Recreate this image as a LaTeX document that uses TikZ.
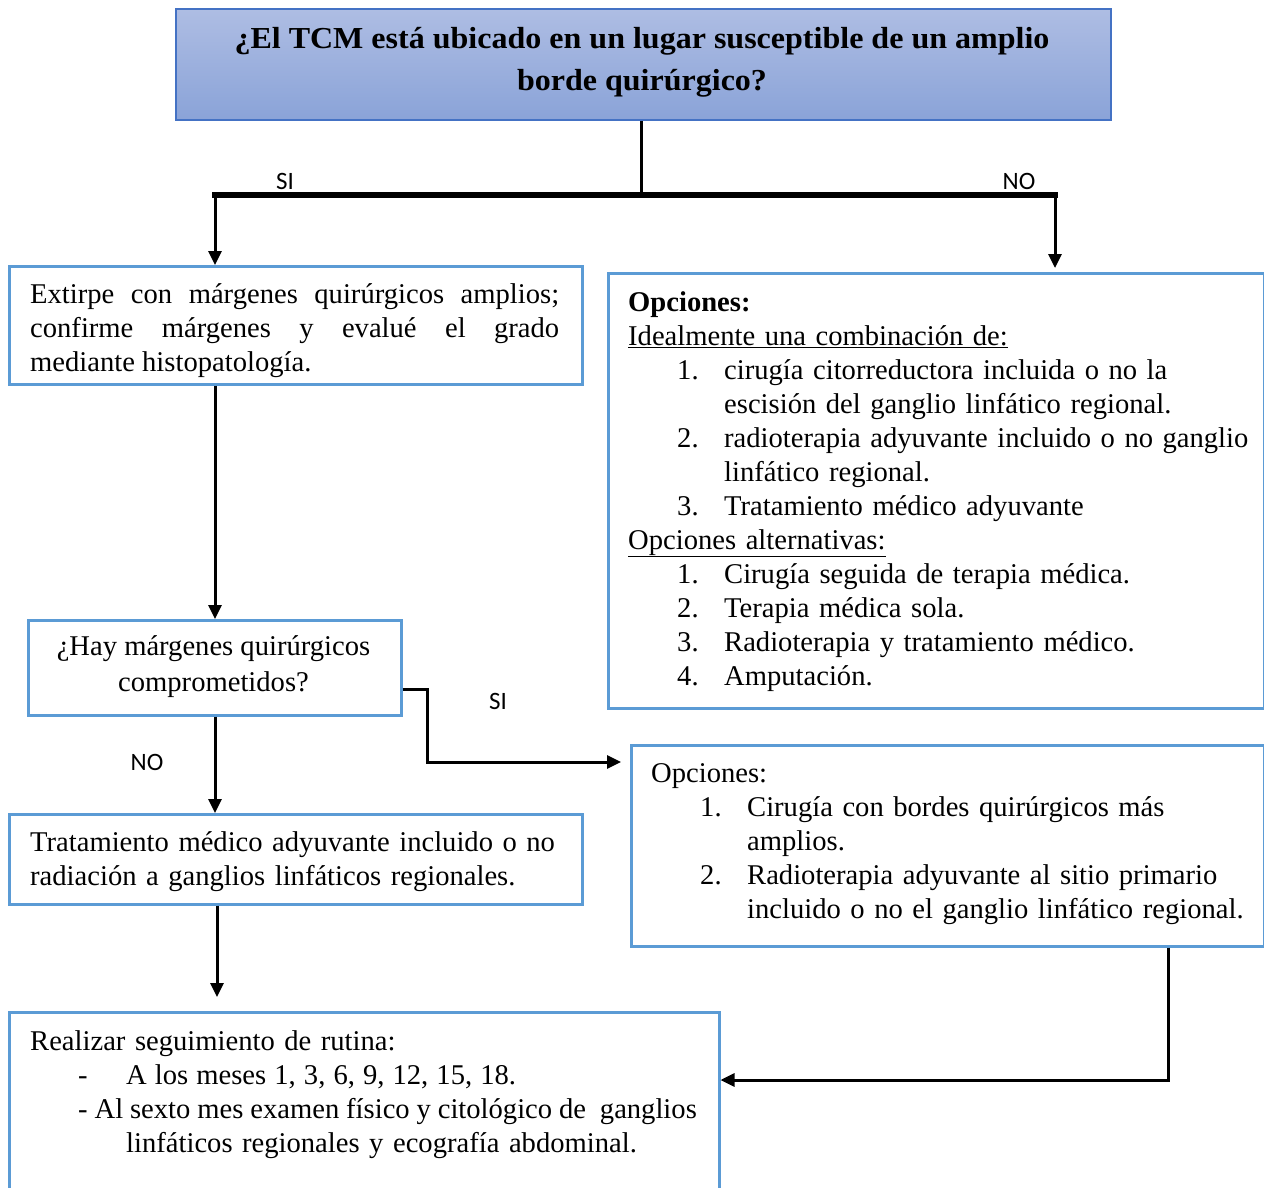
\documentclass[tikz,border=0pt]{standalone}
\usepackage{fontspec}
\setmainfont{Liberation Serif}
\newfontfamily\lblfont{Carlito}
\newfontfamily\titlefont{Liberation Serif}[FakeStretch=1.05]
\usetikzlibrary{arrows.meta}
\definecolor{boxblue}{HTML}{5B9BD5}
\definecolor{titleborder}{HTML}{4472C4}
\definecolor{titletop}{HTML}{AEBDE3}
\definecolor{titlebot}{HTML}{8AA3D8}
\begin{document}
\begin{tikzpicture}[x=1pt,y=-1pt,
  box/.style={draw=boxblue, line width=2.5pt, rectangle, inner sep=0pt, anchor=north west},
  txt/.style={inner sep=0pt, font=\fontsize{28.6}{34}\selectfont, align=left, anchor=base west},
  lbl/.style={font=\lblfont\fontsize{25}{29}\selectfont, inner sep=0pt},
  arr/.style={line width=3pt, -{Triangle[width=13pt,length=14pt]}},
  conn/.style={line width=3pt}]
\useasboundingbox (0,0) rectangle (1264,1188);

% boxes
\node[draw=titleborder, line width=2pt, top color=titletop, bottom color=titlebot,
      rectangle, inner sep=0pt, anchor=north west, minimum width=935pt, minimum height=111pt] (title) at (175,8) {};
\node[inner sep=0pt, align=center, font=\titlefont\bfseries\fontsize{30.5}{42}\selectfont] (titletxt) at (642,62)
  {¿El TCM está ubicado en un lugar susceptible de un amplio\\borde quirúrgico?};

\node[box, minimum width=573pt, minimum height=118pt] (a) at (8,265) {};
\node[txt, text width=529pt, align=justify] (atxt) at (30,303)
  {Extirpe con márgenes quirúrgicos amplios;\linebreak confirme márgenes y evalué el grado\linebreak mediante histopatología.};

\node[box, minimum width=656pt, minimum height=435pt] (b) at (607,272) {};
\node[txt, text width=640pt] (btxt) at (628,311)
  {{\bfseries Opciones:}\\
   \underline{Idealmente una combinación de:}\\
   \hspace*{49pt}\makebox[47pt][l]{1.}cirugía citorreductora incluida o no la\\
   \hspace*{96pt}escisión del ganglio linfático regional.\\
   \hspace*{49pt}\makebox[47pt][l]{2.}radioterapia adyuvante incluido o no ganglio\\
   \hspace*{96pt}linfático regional.\\
   \hspace*{49pt}\makebox[47pt][l]{3.}Tratamiento médico adyuvante\\
   \underline{Opciones alternativas:}\\
   \hspace*{49pt}\makebox[47pt][l]{1.}Cirugía seguida de terapia médica.\\
   \hspace*{49pt}\makebox[47pt][l]{2.}Terapia médica sola.\\
   \hspace*{49pt}\makebox[47pt][l]{3.}Radioterapia y tratamiento médico.\\
   \hspace*{49pt}\makebox[47pt][l]{4.}Amputación.};

\node[box, minimum width=373pt, minimum height=95pt] (c) at (27,619) {};
\node[inner sep=0pt, align=center, font=\fontsize{28.6}{36}\selectfont] (ctxt) at (213.5,667)
  {¿Hay márgenes quirúrgicos\\comprometidos?};

\node[box, minimum width=573pt, minimum height=90pt] (d) at (8,813) {};
\node[txt, text width=545pt] (dtxt) at (30,851)
  {Tratamiento médico adyuvante incluido o no\\radiación a ganglios linfáticos regionales.};

\node[box, minimum width=633pt, minimum height=201pt] (e) at (630,744) {};
\node[txt, text width=620pt] (etxt) at (651,782)
  {Opciones:\\
   \hspace*{49pt}\makebox[47pt][l]{1.}Cirugía con bordes quirúrgicos más\\
   \hspace*{96pt}amplios.\\
   \hspace*{49pt}\makebox[47pt][l]{2.}Radioterapia adyuvante al sitio primario\\
   \hspace*{96pt}incluido o no el ganglio linfático regional.};

\node[box, minimum width=710pt, minimum height=200pt] (f) at (8,1011) {};
\node[txt, text width=740pt] (ftxt) at (30,1050)
  {Realizar seguimiento de rutina:\\
   \hspace*{48pt}\makebox[48pt][l]{-}{\spaceskip=8.1pt\relax A los meses 1, 3, 6, 9, 12, 15, 18.}\\
   \hspace*{48pt}{\spaceskip=6.9pt\relax - Al sexto mes examen físico y citológico de\ \ ganglios}\\
   \hspace*{96pt}linfáticos regionales y ecografía abdominal.};

% coordinates
\coordinate (top) at (641,195);
\coordinate (barL) at (212,195);
\coordinate (barR) at (1058,195);
\coordinate (siL) at (215,195);
\coordinate (noR) at (1055,195);
\coordinate (el1) at (427,689);
\coordinate (el2) at (427,762);
\coordinate (dx) at (217,903);
\coordinate (ex) at (1168,1080);

% connectors
\draw[conn] (title.south -| top) -- (top);
\draw[line width=5.5pt] (barL) -- (barR);
\draw[arr] (siL) -- (a.north -| siL);
\draw[arr, shorten >=4pt] (noR) -- (b.north -| noR);
\draw[arr] (a.south -| siL) -- (c.north -| siL);
\draw[arr] (c.south -| siL) -- (d.north -| siL);
\draw[arr, shorten >=9pt] (c.east |- el1) -- (el1) -- (el2) -- (e.west |- el2);
\draw[arr, shorten >=14pt] (d.south -| dx) -- (f.north -| dx);
\draw[arr] (e.south -| ex) -- (ex) -- (f.east |- ex);

% labels
\node[lbl] (lsi1) at (285,181) {SI};
\node[lbl] (lno1) at (1019,181) {NO};
\node[lbl] (lsi2) at (498,701) {SI};
\node[lbl] (lno2) at (147,762) {NO};
\end{tikzpicture}
\end{document}
